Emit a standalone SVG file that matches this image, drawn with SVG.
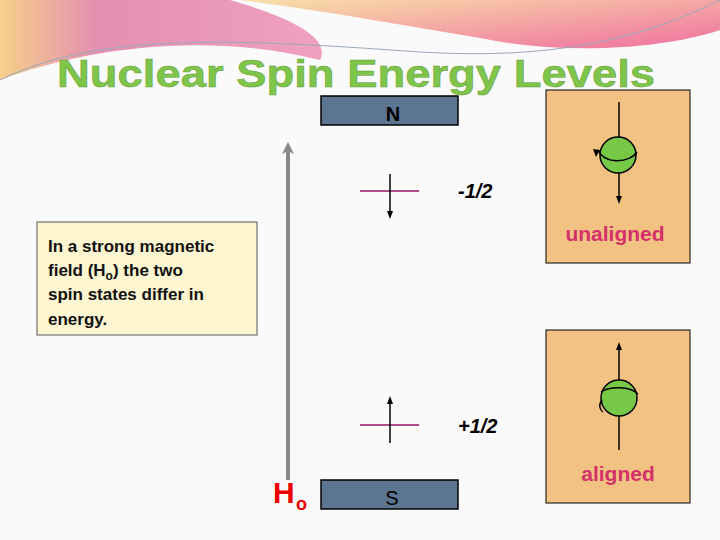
<svg xmlns="http://www.w3.org/2000/svg" width="720" height="540" viewBox="0 0 720 540">
<defs>
<linearGradient id="wave" x1="0" y1="0" x2="1" y2="0"><stop offset="0" stop-color="#f7d08a"/><stop offset="0.3" stop-color="#e38fb0"/><stop offset="1" stop-color="#f0a0c0"/></linearGradient>
<linearGradient id="wave2" x1="0" y1="0" x2="1" y2="1"><stop offset="0" stop-color="#f8e0a8"/><stop offset="1" stop-color="#f070a0"/></linearGradient>
<marker id="ah" markerWidth="8" markerHeight="8" refX="4" refY="4" orient="auto" markerUnits="userSpaceOnUse"><path d="M0,1 L8,4 L0,7 Z" fill="#000"/></marker>
<marker id="gah" markerWidth="12" markerHeight="12" refX="6" refY="6" orient="auto" markerUnits="userSpaceOnUse"><path d="M0,0 L12,6 L0,12 L3,6 Z" fill="#888"/></marker>
</defs>
<style>
.bar{fill:#5c7590;stroke:#000;stroke-width:1.5}
.pan{fill:#f2c283;stroke:#000;stroke-width:1}
.lbl{font-family:"Liberation Sans",Arial,sans-serif}
.lvl{stroke:#b0508a;stroke-width:2}
.ln{stroke:#000;stroke-width:1.5;fill:none}
</style>
<rect width="720" height="540" fill="#fafafa"/>
<path d="M0,0 H230 C300,20 330,40 320,60 C200,30 80,50 0,80 Z" fill="url(#wave)"/>
<path d="M240,0 H720 V30 C660,50 560,55 480,38 C400,25 320,10 240,0 Z" fill="url(#wave2)"/>
<path d="M0,80 C100,30 250,40 420,52 C550,60 640,40 720,0" fill="none" stroke="#9ab" stroke-width="1"/>
<text class="lbl" x="356" y="87" text-anchor="middle" font-size="38" font-weight="bold" fill="#7dc64a" stroke="#6a9a40" stroke-width="0.5" textLength="598" lengthAdjust="spacingAndGlyphs">Nuclear Spin Energy Levels</text>
<g id="arrow-Ho">
<line x1="288" y1="480" x2="288" y2="148" stroke="#888" stroke-width="4" marker-end="url(#gah)"/>
<text class="lbl" x="273" y="503" font-size="30" font-weight="bold" fill="#e00">H</text>
<text class="lbl" x="296" y="510" font-size="18" font-weight="bold" fill="#e00">o</text>
</g>
<g id="N"><rect class="bar" x="321" y="96" width="137" height="29"/><text class="lbl" x="393" y="121" text-anchor="middle" font-size="20" font-weight="bold">N</text></g>
<g id="S"><rect class="bar" x="321" y="480" width="137" height="29"/><text class="lbl" x="392" y="505" text-anchor="middle" font-size="20">S</text></g>
<g id="level-minus">
<line class="lvl" x1="360" y1="191" x2="419" y2="191"/>
<line class="ln" x1="390" y1="174" x2="390" y2="215" marker-end="url(#ah)"/>
<text class="lbl" x="458" y="198" font-size="20" font-style="italic" font-weight="bold">-1/2</text>
</g>
<g id="level-plus">
<line class="lvl" x1="360" y1="425" x2="419" y2="425"/>
<line class="ln" x1="390" y1="443" x2="390" y2="400" marker-end="url(#ah)"/>
<text class="lbl" x="458" y="433" font-size="20" font-style="italic" font-weight="bold">+1/2</text>
</g>
<g id="textbox">
<rect x="37" y="222" width="220" height="113" fill="#fdf6d0" stroke="#555" stroke-width="1"/>
<text class="lbl" font-size="17" font-weight="bold" fill="#111"><tspan x="48" y="252">In a strong magnetic</tspan><tspan x="48" y="276">field (H</tspan><tspan font-size="12" dy="4">o</tspan><tspan dy="-4">) the two</tspan><tspan x="48" y="300">spin states differ in</tspan><tspan x="48" y="325">energy.</tspan></text>
</g>
<g id="unaligned">
<rect class="pan" x="546" y="90" width="144" height="173"/>
<line class="ln" x1="619" y1="102" x2="619" y2="200" marker-end="url(#ah)"/>
<circle cx="618" cy="155" r="18" fill="#78c848" stroke="#000" stroke-width="1.5"/>
<path class="ln" d="M598,150 C605,165 630,163 637,152"/>
<path d="M593,149 L600,150 L596,157 Z" fill="#000"/>
<text class="lbl" x="615" y="241" text-anchor="middle" font-size="21" font-weight="bold" fill="#d4306a">unaligned</text>
</g>
<g id="aligned">
<rect class="pan" x="546" y="330" width="144" height="173"/>
<line class="ln" x1="619" y1="450" x2="619" y2="346" marker-end="url(#ah)"/>
<circle cx="619" cy="398" r="18" fill="#78c848" stroke="#000" stroke-width="1.5"/>
<path class="ln" d="M601,392 C610,386 630,386 638,394"/>
<path class="ln" d="M602,400 C598,405 600,410 603,412"/>
<text class="lbl" x="618" y="481" text-anchor="middle" font-size="21" font-weight="bold" fill="#d4306a">aligned</text>
</g>
</svg>
